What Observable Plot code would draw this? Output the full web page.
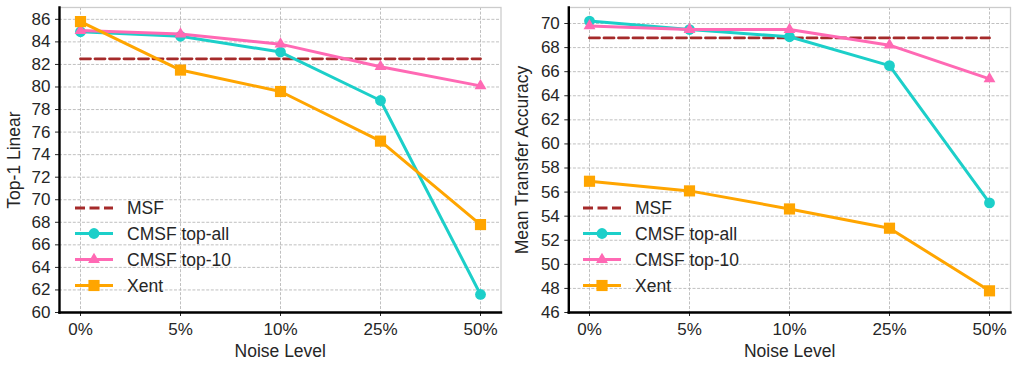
<!DOCTYPE html>
<html><head><meta charset="utf-8">
<script src="https://cdn.jsdelivr.net/npm/d3@7"></script>
<script src="https://cdn.jsdelivr.net/npm/@observablehq/plot@0.6"></script>
<style>
body{margin:0;background:#fff;font-family:"Liberation Sans",Arial,sans-serif;}
#wrap{display:flex;width:1016px;height:368px;}
.panel{position:relative;width:508px;height:368px;}
.panel svg.legend{position:absolute;left:0;top:0;}
</style></head><body><div id="wrap"><div class="panel" id="p1"></div><div class="panel" id="p2"></div></div>
<script>
const noiseLevels = ["0%", "5%", "10%", "25%", "50%"];
const seriesNames = ["MSF", "CMSF top-all", "CMSF top-10", "Xent"];
const seriesColors = ["#a52a2a", "#1ccfc9", "#ff69b4", "#ffa500"];
const seriesSymbols = [null, "circle", "triangle", "square"];

const top1Msf = 82.5;
const top1CmsfAll = [84.9, 84.5, 83.1, 78.8, 61.6];
const top1Cmsf10 = [85.0, 84.7, 83.8, 81.8, 80.1];
const top1Xent = [85.8, 81.5, 79.6, 75.2, 67.8];
const top1Ticks = [60, 62, 64, 66, 68, 70, 72, 74, 76, 78, 80, 82, 84, 86];

const transferMsf = 68.8;
const transferCmsfAll = [70.2, 69.5, 68.9, 66.5, 55.1];
const transferCmsf10 = [69.8, 69.5, 69.5, 68.2, 65.4];
const transferXent = [56.9, 56.1, 54.6, 53.0, 47.8];
const transferTicks = [46, 48, 50, 52, 54, 56, 58, 60, 62, 64, 66, 68, 70];

const FONT = '"Liberation Sans", Arial, sans-serif';
const TXT = "#262626";
const symR = {circle: 5.4, triangle: 4.4, square: 6.3};

function panel(el, {yDomain, ticks, msf, values, ylabel, marginLeft, marginRight, ylabelDx}) {
  const gridStyle = {stroke: "#b0b0b0", strokeOpacity: 1, strokeWidth: 0.8, strokeDasharray: "3,1.6"};
  const marks = [
    Plot.gridX(noiseLevels, gridStyle),
    Plot.gridY(ticks, gridStyle),
    Plot.frame({stroke: "#cccccc", strokeWidth: 1.3}),
    Plot.axisX({tickSize: 4, tickPadding: 6, label: null, fontSize: 17}),
    Plot.axisY({ticks, tickSize: 4, tickPadding: 5, label: null, fontSize: 17}),
    Plot.lineY([{n: noiseLevels[0], v: msf}, {n: noiseLevels[noiseLevels.length - 1], v: msf}],
      {x: "n", y: "v", stroke: seriesColors[0], strokeWidth: 2.8, strokeDasharray: "10,4.5"})
  ];
  values.forEach((arr, k) => {
    const data = noiseLevels.map((n, i) => ({n, v: arr[i]}));
    const c = seriesColors[k + 1], s = seriesSymbols[k + 1];
    marks.push(Plot.line(data, {x: "n", y: "v", stroke: c, strokeWidth: 3}));
    marks.push(Plot.dot(data, {x: "n", y: "v", symbol: s, r: symR[s], fill: c, stroke: "none"}));
  });
  marks.push(
    Plot.frame({anchor: "left", stroke: "#000", strokeWidth: 2.4}),
    Plot.frame({anchor: "bottom", stroke: "#000", strokeWidth: 2.4}),
    Plot.text(["Noise Level"], {frameAnchor: "bottom", lineAnchor: "middle", textAnchor: "middle", dy: 38.5, fontSize: 17.5, fill: TXT}),
    Plot.text([ylabel], {frameAnchor: "left", lineAnchor: "middle", textAnchor: "middle", dx: ylabelDx, rotate: -90, fontSize: 17.5, fill: TXT})
  );
  const chart = Plot.plot({
    width: 508, height: 368,
    marginLeft, marginRight, marginTop: 7, marginBottom: 56,
    style: {fontFamily: FONT, fontSize: "17px", color: TXT, background: "transparent"},
    x: {type: "point", domain: noiseLevels, padding: 0.2},
    y: {domain: yDomain},
    marks
  });
  el.appendChild(chart);

  // legend (inside the axes, lower-left)
  const svg = d3.select(el).append("svg").attr("class", "legend")
    .attr("width", 508).attr("height", 368);
  const rowY = [208, 233.5, 259.5, 285.5];
  const lx0 = 75, lx1 = 113, tx = 127;
  seriesNames.forEach((name, k) => {
    const y = rowY[k];
    const g = svg.append("g");
    const line = g.append("line").attr("x1", lx0).attr("x2", lx1).attr("y1", y).attr("y2", y)
      .attr("stroke", seriesColors[k]).attr("stroke-width", k === 0 ? 2.8 : 3);
    if (k === 0) line.attr("stroke-dasharray", "10,4.5");
    const s = seriesSymbols[k];
    if (s) {
      const sym = {circle: d3.symbolCircle, triangle: d3.symbolTriangle, square: d3.symbolSquare}[s];
      g.append("path").attr("d", d3.symbol(sym, Math.PI * symR[s] * symR[s])())
        .attr("transform", `translate(${(lx0 + lx1) / 2},${y})`).attr("fill", seriesColors[k]);
    }
    g.append("text").attr("x", tx).attr("y", y).attr("dy", "0.35em")
      .attr("font-family", FONT).attr("font-size", 17.5).attr("fill", TXT).text(name);
  });
}

panel(document.getElementById("p1"), {
  yDomain: [60, 87.05], ticks: top1Ticks, msf: top1Msf,
  values: [top1CmsfAll, top1Cmsf10, top1Xent],
  ylabel: "Top-1 Linear", marginLeft: 59, marginRight: 7.5, ylabelDx: -45
});
panel(document.getElementById("p2"), {
  yDomain: [46, 71.33], ticks: transferTicks, msf: transferMsf,
  values: [transferCmsfAll, transferCmsf10, transferXent],
  ylabel: "Mean Transfer Accuracy", marginLeft: 60.3, marginRight: 6, ylabelDx: -46
});
</script></body></html>
